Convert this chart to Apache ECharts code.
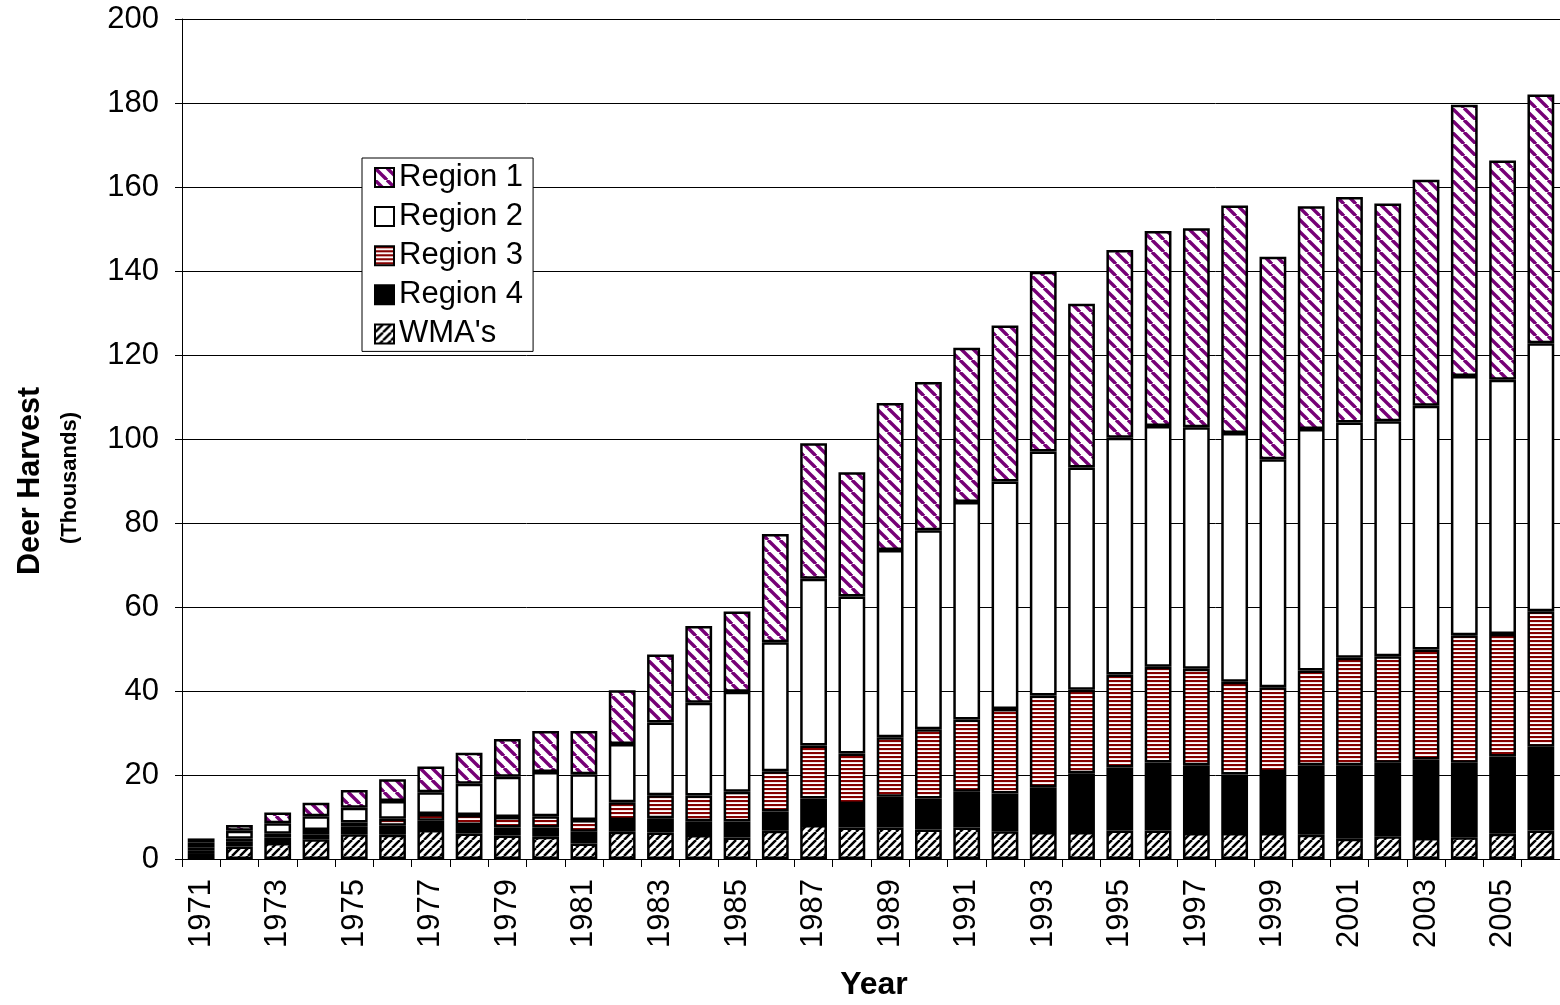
<!DOCTYPE html>
<html>
<head>
<meta charset="utf-8">
<script src="https://cdn.jsdelivr.net/npm/echarts@6/dist/echarts.min.js"></script>
<style>
  html, body { margin: 0; padding: 0; background: #fff; }
  #chart { width: 1560px; height: 1005px; }
</style>
</head>
<body>
<div id="chart"></div>
<script>
const years = ['1971','1972','1973','1974','1975','1976','1977','1978','1979','1980','1981','1982','1983','1984','1985','1986','1987','1988','1989','1990','1991','1992','1993','1994','1995','1996','1997','1998','1999','2000','2001','2002','2003','2004','2005','2006'];
const wmas    = [1.2,3.0,3.8,4.7,5.9,5.8,6.9,6.1,5.6,5.3,3.7,6.5,6.3,5.7,5.1,6.7,8.1,7.5,7.5,7.0,7.5,6.6,6.4,6.4,6.8,6.8,6.2,6.2,6.2,5.8,4.8,5.4,5.0,5.2,6.0,6.8];
const region4 = [0.9,1.2,1.4,1.2,1.9,2.1,2.2,2.0,1.9,2.2,2.8,2.8,3.4,3.3,3.8,4.6,6.3,5.6,7.3,7.4,8.5,9.0,10.7,14.0,15.0,16.2,16.1,13.9,14.5,16.5,17.5,17.5,18.7,17.7,18.4,19.9];
const region3 = [0.7,0.6,0.8,1.0,0.9,1.7,1.6,2.4,2.5,2.7,2.8,4.2,5.5,6.1,7.1,9.6,12.6,12.0,14.2,16.5,17.2,20.1,21.8,19.9,22.1,22.8,23.0,22.1,20.2,22.6,25.6,25.4,26.2,30.4,29.2,32.3];
const region2 = [1.2,1.9,2.5,3.3,3.5,4.2,5.2,7.4,9.6,10.5,10.9,13.9,17.3,22.1,23.8,30.7,39.7,37.4,44.6,47.4,51.8,54.2,58.1,52.9,56.4,57.3,57.5,59.2,54.3,57.5,56.0,55.9,58.0,61.7,60.5,63.8];
const region1 = [0.9,1.4,2.6,3.2,4.2,5.2,6.1,7.4,9.0,9.8,10.3,12.8,16.2,18.3,19.1,25.8,32.3,29.6,35.0,35.3,36.7,37.1,42.8,39.0,44.7,46.4,47.4,54.2,48.2,53.0,53.7,51.9,53.8,64.6,52.2,59.2];
const seriesNames = ['WMA\'s','Region 4','Region 3','Region 2','Region 1'];
const legendOrder = ['Region 1','Region 2','Region 3','Region 4','WMA\'s'];

function tile(size, draw) {
  const c = document.createElement('canvas');
  c.width = size; c.height = size;
  const ctx = c.getContext('2d');
  ctx.fillStyle = '#ffffff';
  ctx.fillRect(0, 0, size, size);
  draw(ctx, size);
  return { image: c, repeat: 'repeat' };
}
// Region 1: purple "\" diagonal stripes
const patR1 = tile(12, (ctx, P) => {
  ctx.strokeStyle = '#760076';
  ctx.lineWidth = 3.4;
  for (let o = -P; o <= P; o += P) {
    ctx.beginPath(); ctx.moveTo(o, 0); ctx.lineTo(o + P, P); ctx.stroke();
  }
});
// WMA: black "/" diagonal stripes
const patW = tile(8, (ctx, P) => {
  ctx.strokeStyle = '#000000';
  ctx.lineWidth = 2.5;
  for (let o = -P; o <= P; o += P) {
    ctx.beginPath(); ctx.moveTo(o, P); ctx.lineTo(o + P, 0); ctx.stroke();
  }
});
// Region 3: horizontal dark red / white stripes
const patR3 = tile(4, (ctx, P) => {
  ctx.fillStyle = '#850000';
  ctx.fillRect(0, 0, P, 2);
  ctx.fillStyle = '#f0d0d0';
  ctx.fillRect(0, 2, P, 0.6);
});

const fills = { "WMA's": patW, 'Region 4': '#000000', 'Region 3': patR3, 'Region 2': '#ffffff', 'Region 1': patR1 };
const dataBy = { "WMA's": wmas, 'Region 4': region4, 'Region 3': region3, 'Region 2': region2, 'Region 1': region1 };

const FONT = 'Arial, "Liberation Sans", sans-serif';
const chart = echarts.init(document.getElementById('chart'), null, { renderer: 'canvas' });

const option = {
  backgroundColor: '#ffffff',
  animation: false,
  grid: { left: 182, top: 19, width: 1383, bottom: 146, containLabel: false },
  legend: {
    show: true,
    orient: 'vertical',
    left: 362, top: 158,
    data: legendOrder,
    selectedMode: false,
    backgroundColor: '#ffffff',
    borderColor: '#000000',
    borderWidth: 1,
    padding: [4, 10, 2, 12],
    itemWidth: 19, itemHeight: 19,
    itemGap: 8.1,
    itemTextGap: 12,
    icon: 'rect',
    textStyle: { fontFamily: FONT, fontSize: 31, color: '#000', lineHeight: 30 }
  },
  xAxis: {
    type: 'category',
    data: years,
    axisLine: { show: true, lineStyle: { color: '#000', width: 1 } },
    axisTick: { show: true, alignWithLabel: false, interval: 0, length: 8, lineStyle: { color: '#000' } },
    axisLabel: { interval: 1, rotate: 90, margin: 20, fontFamily: FONT, fontSize: 31, color: '#000' },
    splitLine: { show: false }
  },
  yAxis: {
    type: 'value',
    min: 0, max: 200, interval: 20,
    axisLine: { show: true, lineStyle: { color: '#000', width: 1 } },
    axisTick: { show: true, length: 7, lineStyle: { color: '#000' } },
    axisLabel: { margin: 23, fontFamily: FONT, fontSize: 31, color: '#000' },
    splitLine: { show: true, lineStyle: { color: '#000', width: 1 } }
  },
  graphic: [
    { type: 'text', x: 874, y: 985, style: { text: 'Year', fontFamily: FONT, fontSize: 32, fontWeight: 'bold', fill: '#000', textAlign: 'center', textVerticalAlign: 'middle' } },
    { type: 'text', x: 31, y: 481, rotation: Math.PI / 2, style: { text: 'Deer Harvest', fontFamily: FONT, fontSize: 30.5, fontWeight: 'bold', fill: '#000', textAlign: 'center', textVerticalAlign: 'middle' } },
    { type: 'text', x: 70, y: 478, rotation: Math.PI / 2, style: { text: '(Thousands)', fontFamily: FONT, fontSize: 22, fontWeight: 'bold', fill: '#000', textAlign: 'center', textVerticalAlign: 'middle' } }
  ],
  series: seriesNames.map(n => ({
    name: n,
    type: 'bar',
    stack: 'total',
    barCategoryGap: '30%',
    data: dataBy[n],
    itemStyle: { color: fills[n], borderColor: '#000', borderWidth: 2.5 },
    emphasis: { disabled: true }
  }))
};
chart.setOption(option);
</script>
</body>
</html>
